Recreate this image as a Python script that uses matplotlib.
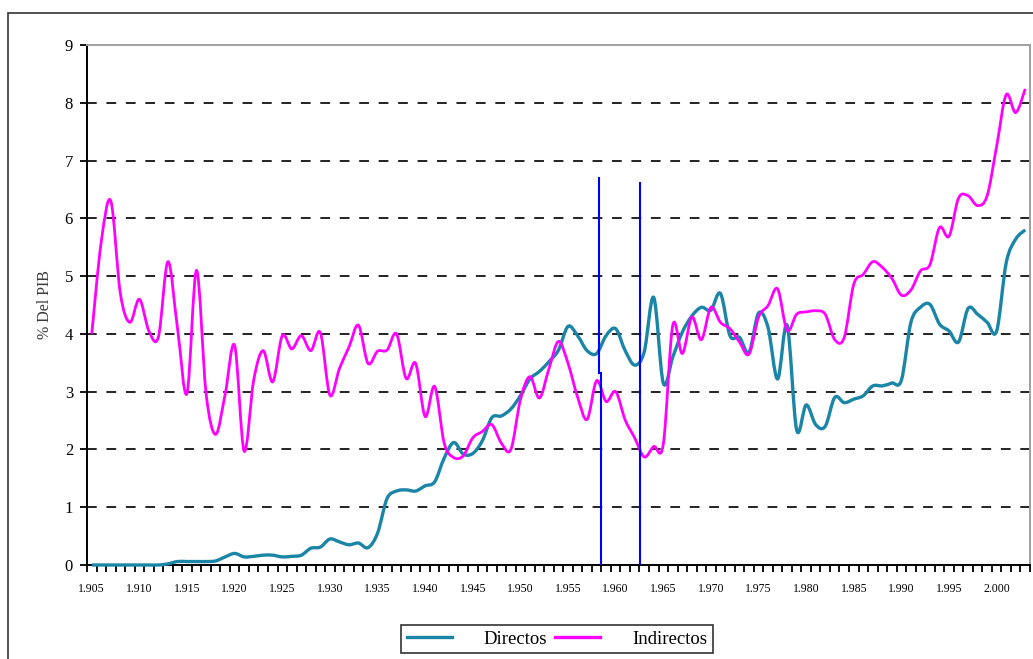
import matplotlib
matplotlib.use('Agg')
import matplotlib.pyplot as plt
from matplotlib.patches import Rectangle, PathPatch
from matplotlib.path import Path
from matplotlib.lines import Line2D

plt.rcParams['font.family'] = ['Liberation Serif', 'DejaVu Serif']

# data (1905 - 2003)
years = list(range(1905, 2004))
directos = [0, 0, 0, 0, 0, 0, 0, 0, 0.02, 0.06,
            0.06, 0.06, 0.06, 0.07, 0.14, 0.20, 0.14, 0.15, 0.17, 0.17,
            0.14, 0.15, 0.17, 0.29, 0.31, 0.45, 0.40, 0.35, 0.38, 0.30,
            0.55, 1.15, 1.28, 1.30, 1.28, 1.37, 1.44, 1.85, 2.12, 1.92,
            1.93, 2.15, 2.55, 2.58, 2.70, 2.93, 3.22, 3.35, 3.52, 3.72,
            4.13, 3.97, 3.71, 3.66, 3.97, 4.09, 3.71, 3.46, 3.69, 4.63,
            3.15, 3.60, 4.03, 4.31, 4.46, 4.41, 4.70, 3.97, 3.94, 3.68,
            4.36, 4.11, 3.22, 4.15, 2.34, 2.77, 2.43, 2.40, 2.90, 2.81,
            2.87, 2.93, 3.10, 3.10, 3.15, 3.20, 4.20, 4.46, 4.51, 4.17,
            4.05, 3.86, 4.44, 4.34, 4.20, 4.05, 5.23, 5.64, 5.80]
indirectos = [4.00, 5.60, 6.30, 4.70, 4.20, 4.60, 4.05, 3.95, 5.25, 4.10,
              2.97, 5.10, 2.97, 2.26, 2.95, 3.80, 1.97, 3.20, 3.71, 3.17,
              3.97, 3.74, 3.97, 3.71, 4.02, 2.94, 3.40, 3.77, 4.15, 3.49,
              3.70, 3.72, 4.00, 3.23, 3.49, 2.57, 3.09, 2.11, 1.86, 1.89,
              2.20, 2.31, 2.43, 2.11, 2.00, 2.86, 3.26, 2.89, 3.40, 3.87,
              3.49, 2.91, 2.52, 3.19, 2.83, 3.00, 2.51, 2.20, 1.87, 2.05,
              2.09, 4.15, 3.66, 4.29, 3.90, 4.46, 4.20, 4.09, 3.86, 3.65,
              4.29, 4.49, 4.78, 4.06, 4.34, 4.38, 4.40, 4.34, 3.90, 3.94,
              4.86, 5.03, 5.25, 5.15, 4.96, 4.67, 4.76, 5.09, 5.20, 5.84,
              5.69, 6.35, 6.39, 6.22, 6.39, 7.25, 8.14, 7.83, 8.24]

tick_years = list(range(1905, 2001, 5))
tick_labels = ['1.905', '1.910', '1.915', '1.920', '1.925', '1.930', '1.935',
               '1.940', '1.945', '1.950', '1.955', '1.960', '1.965', '1.970',
               '1.975', '1.980', '1.985', '1.990', '1.995', '2.000']

# blue vertical marks (x in years, from y0 to y1)
marca_x = [1958.3, 1958.5, 1962.6]
marca_y0 = [3.33, 0.0, 0.0]
marca_y1 = [6.69, 3.33, 6.62]


def smooth_path(x, y):
    # spreadsheet-style smoothed line: bezier segments through every point
    n = len(x)
    verts = [(x[0], y[0])]
    codes = [Path.MOVETO]
    for i in range(n - 1):
        a = max(i - 1, 0)
        b = min(i + 2, n - 1)
        c1 = (x[i] + (x[i + 1] - x[a]) / 6, y[i] + (y[i + 1] - y[a]) / 6)
        c2 = (x[i + 1] - (x[b] - x[i]) / 6, y[i + 1] - (y[b] - y[i]) / 6)
        verts += [c1, c2, (x[i + 1], y[i + 1])]
        codes += [Path.CURVE4] * 3
    return Path(verts, codes)


W, H = 1033, 659
fig = plt.figure(figsize=(W / 100, H / 100), dpi=100)
ax = fig.add_axes([87 / W, 1 - 565 / H, (1030 - 87) / W, (565 - 45) / H])

for v in range(1, 9):
    ax.axhline(v, color='#222222', lw=1.4, ls=(0, (5, 5)), zorder=1)

c_dir = '#1a85a6'
c_ind = '#ff00ff'
ax.add_patch(PathPatch(smooth_path(years, directos), fill=False, ec=c_dir,
                       lw=2.4, zorder=4, clip_on=False, joinstyle='round'))
ax.add_patch(PathPatch(smooth_path(years, indirectos), fill=False, ec=c_ind,
                       lw=2.0, zorder=5, clip_on=False, joinstyle='round'))

for x, y0, y1 in zip(marca_x, marca_y0, marca_y1):
    ax.plot([x, x], [y0, y1], color='#0000ff', lw=1.5, zorder=6)

ax.set_xlim(1904.5, 2003.5)
ax.set_ylim(0, 9)
ax.set_xticks(tick_years, tick_labels)
ax.set_xticks([y - 0.5 for y in years] + [2003.5], minor=True)
ax.tick_params(axis='x', which='major', length=0, pad=13, labelsize=8.5)
ax.tick_params(axis='x', which='minor', length=4.8, width=1.3, direction='out')
ax.set_yticks(range(10))
ax.tick_params(axis='y', length=5, width=1.3, labelsize=12, pad=5)

for s in ['left', 'bottom']:
    ax.spines[s].set_linewidth(1.4)
    ax.spines[s].set_color('black')
for s in ['top', 'right']:
    ax.spines[s].set_linewidth(1.4)
    ax.spines[s].set_color('#a0a0a0')

ax.set_ylabel('% Del PIB', fontsize=11.5, color='#3a3a3a')
ax.yaxis.set_label_coords(-0.036, 0.5)

h1 = Line2D([], [], color=c_dir, lw=2.4)
h2 = Line2D([], [], color=c_ind, lw=2.4)
leg = fig.legend([h1, h2], ['Directos', 'Indirectos'], loc='upper left',
                 bbox_to_anchor=(401 / W, 1 - 625 / H), ncol=2, fontsize=13.5,
                 frameon=True, fancybox=False, edgecolor='black',
                 handlelength=2.4, handletextpad=1.7, columnspacing=0.43,
                 borderpad=0.3, borderaxespad=0)
leg.get_frame().set_linewidth(1.2)

fig.add_artist(Rectangle((8 / W, -0.1), 1.2, 1 - 13 / H + 0.1,
                         transform=fig.transFigure, fill=False,
                         ec='#333333', lw=1.2))

fig.savefig('out.png', dpi=100)
